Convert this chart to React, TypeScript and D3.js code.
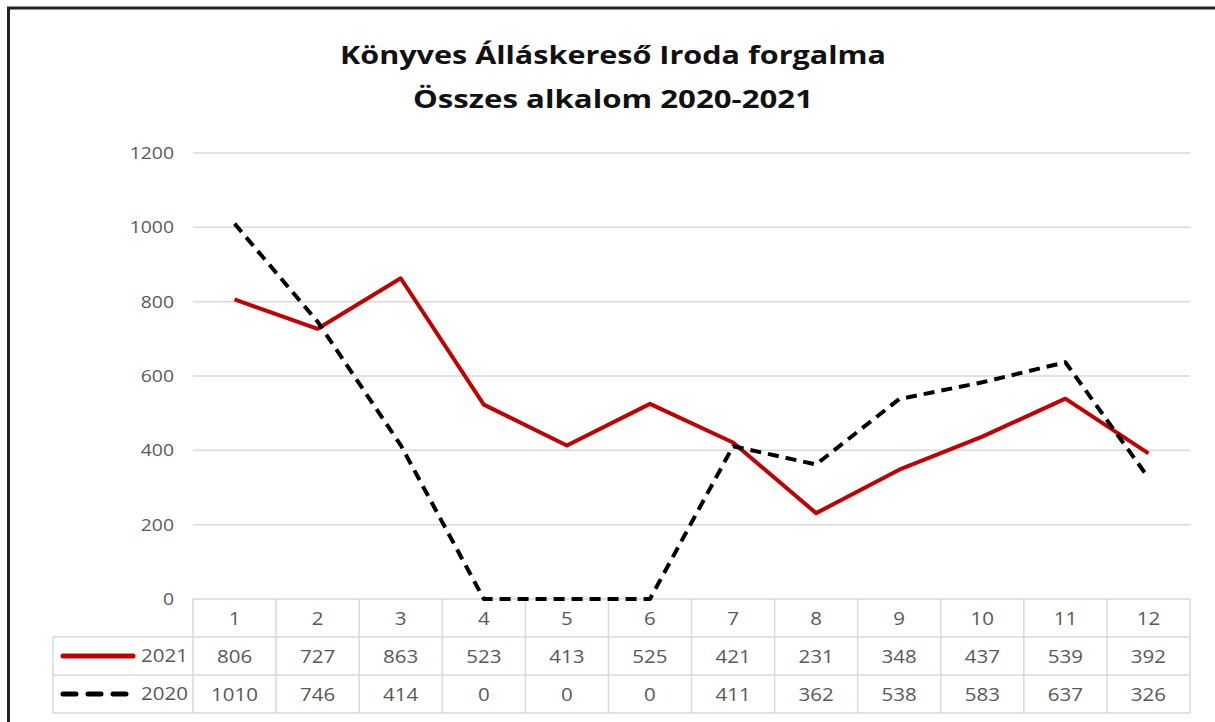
import React, { useRef, useEffect } from "react";
import * as d3 from "d3";

const months = ["1", "2", "3", "4", "5", "6", "7", "8", "9", "10", "11", "12"];
const values2021 = [806, 727, 863, 523, 413, 525, 421, 231, 348, 437, 539, 392];
const values2020 = [1010, 746, 414, 0, 0, 0, 411, 362, 538, 583, 637, 326];
const yTicks = [0, 200, 400, 600, 800, 1000, 1200];
const titleLines = ["Könyves Álláskereső Iroda forgalma", "Összes alkalom 2020-2021"];

const App = () => {
  const ref = useRef<SVGSVGElement>(null);

  useEffect(() => {
    const svg = d3.select(ref.current);
    svg.selectAll("*").remove();

    const width = 1215;
    const height = 722;
    const font = "'Open Sans', 'Noto Sans', sans-serif";
    const margin = { top: 153, right: 25, bottom: 123, left: 193 };
    // the source picture is stretched sideways, so text gets widened a bit
    const stretch = 1.14;

    svg.attr("width", width).attr("height", height);

    svg
      .append("rect")
      .attr("width", width)
      .attr("height", height)
      .attr("fill", "white");

    // outer frame
    svg
      .append("path")
      .attr("d", `M8.5,${height} L8.5,8 L${width},8`)
      .attr("fill", "none")
      .attr("stroke", "#222")
      .attr("stroke-width", 3);

    const x = d3
      .scaleBand()
      .domain(months)
      .range([margin.left, width - margin.right]);

    const y = d3
      .scaleLinear()
      .domain([0, 1200])
      .range([height - margin.bottom, margin.top]);

    const label = (g, tx, ty, txt, anchor, size) =>
      g
        .append("text")
        .attr("transform", `translate(${tx},${ty}) scale(${stretch},1)`)
        .attr("text-anchor", anchor)
        .attr("font-family", font)
        .attr("font-size", size)
        .attr("fill", "#595959")
        .text(txt);

    // title
    const titleWidths = [546, 400];
    svg
      .append("g")
      .selectAll("text")
      .data(titleLines)
      .join("text")
      .attr("x", 613)
      .attr("y", (d, i) => 64 + i * 44)
      .attr("text-anchor", "middle")
      .attr("font-family", font)
      .attr("font-weight", "bold")
      .attr("font-size", "25px")
      .attr("fill", "#111")
      .attr("textLength", (d, i) => titleWidths[i])
      .attr("lengthAdjust", "spacingAndGlyphs")
      .text((d) => d);

    // gridlines
    svg
      .append("g")
      .selectAll("line")
      .data(yTicks.filter((t) => t > 0))
      .join("line")
      .attr("x1", margin.left)
      .attr("x2", width - margin.right)
      .attr("y1", (d) => y(d))
      .attr("y2", (d) => y(d))
      .attr("stroke", "#d9d9d9")
      .attr("stroke-width", 1.5);

    // y labels
    const yg = svg.append("g");
    yTicks.forEach((t) => label(yg, 174, y(t) + 6, t, "end", "17px"));

    // data table
    const rowH = 38;
    const tableTop = y(0);
    const tableLeft = 53;
    const right = width - margin.right;
    const grid = svg.append("g").attr("stroke", "#d9d9d9").attr("stroke-width", 1.5);
    grid
      .append("line")
      .attr("x1", margin.left)
      .attr("x2", right)
      .attr("y1", tableTop)
      .attr("y2", tableTop);
    [1, 2, 3].forEach((r) => {
      grid
        .append("line")
        .attr("x1", tableLeft)
        .attr("x2", right)
        .attr("y1", tableTop + r * rowH)
        .attr("y2", tableTop + r * rowH);
    });
    grid
      .append("line")
      .attr("x1", tableLeft)
      .attr("x2", tableLeft)
      .attr("y1", tableTop + rowH)
      .attr("y2", tableTop + 3 * rowH);
    grid
      .selectAll("line.col")
      .data([...months.map((m) => x(m)!), right])
      .join("line")
      .attr("class", "col")
      .attr("x1", (d) => d)
      .attr("x2", (d) => d)
      .attr("y1", tableTop)
      .attr("y2", tableTop + 3 * rowH);

    const rows = [months, values2021.map(String), values2020.map(String)];
    const tg = svg.append("g");
    rows.forEach((row, r) => {
      row.forEach((d, i) =>
        label(tg, x(months[i])! + x.bandwidth() / 2, tableTop + r * rowH + 26, d, "middle", "18px")
      );
    });

    const series = [
      { name: "2021", values: values2021, color: "#c00000", dash: null },
      { name: "2020", values: values2020, color: "#000", dash: "11,7" },
    ];

    series.forEach((s, i) => {
      const ly = tableTop + (i + 1) * rowH + rowH / 2;
      svg
        .append("line")
        .attr("x1", 63)
        .attr("x2", 133)
        .attr("y1", ly)
        .attr("y2", ly)
        .attr("stroke", s.color)
        .attr("stroke-width", 5)
        .attr("stroke-linecap", "round")
        .attr("stroke-dasharray", s.dash ? "13,12" : null);
      label(svg, 188, ly + 6, s.name, "end", "18px");
    });

    const line = d3
      .line<number>()
      .x((d, i) => x(months[i])! + x.bandwidth() / 2)
      .y((d) => y(d));

    series.forEach((s) => {
      svg
        .append("path")
        .datum(s.values)
        .attr("d", line)
        .attr("fill", "none")
        .attr("stroke", s.color)
        .attr("stroke-width", 4)
        .attr("stroke-linejoin", "round")
        .attr("stroke-dasharray", s.dash);
    });
  }, []);

  return <svg ref={ref} style={{ display: "block", position: "absolute", left: 0, top: 0 }}></svg>;
};

export default App;
